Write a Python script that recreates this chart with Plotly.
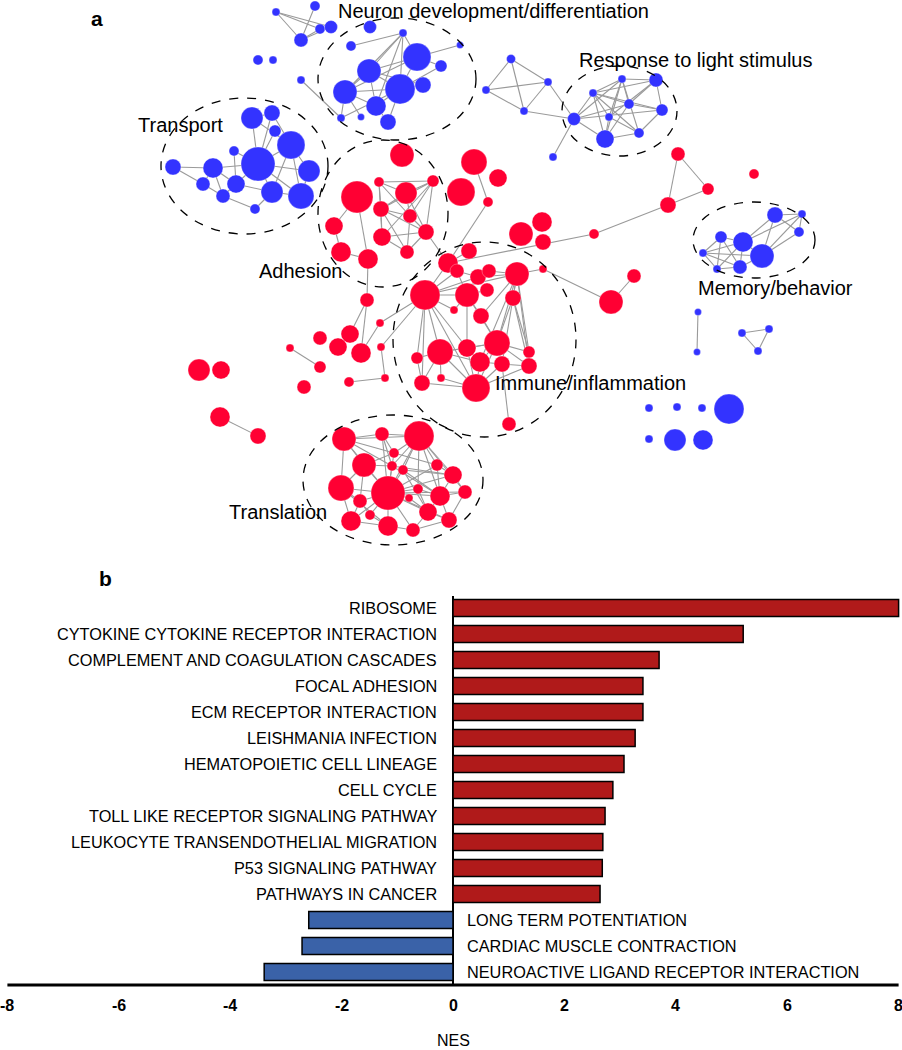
import plotly.graph_objects as go

# ---------------- Panel a: enrichment network (diagram units = pixels of panel) -------------
# blue = down, red = up
neuron_ids = ["n1","n2","n3","n4","n5","n6","n7","n8","n9","n10","n11","n12","n13","n14"]
neuron_x = [370,351,403,460,417,369,441,345,400,423,376,341,361,388]
neuron_y = [27,46,33,45,57,71,66,92,89,85,106,118,117,122]
neuron_r = [6.5,5,4,3.5,14,12,6,12,15,8,10,4,3.5,8]

misc_blue_ids = ["b1","b2","b3","b4","b5","b6","b7","b8","r1","r2","r3","r4",
                 "s1","s2","s3","s4","s5","s6","s7","s8","s9","s10","s11","s12"]
misc_blue_x = [315,276,301,320,331,258,273,301,511,486,548,524,
               698,697,742,769,758,649,677,702,729,649,675,703]
misc_blue_y = [6,12,40,29,27,60,60,80,59,90,82,111,
               312,352,333,329,351,408,407,408,409,439,440,440]
misc_blue_r = [5,4,7,5,6.5,5,4,4,4.5,4,4,4,
               3.5,3.5,4,4,4,4,4,4,15,4,11,10]

transport_ids = ["t1","t2","t3","t4","t5","t6","t7","t8","t9","t10","t11","t12","t13","t14","t15"]
transport_x = [252,272,275,291,234,258,173,213,309,203,236,272,301,223,255]
transport_y = [118,113,131,145,151,164,167,168,171,184,184,192,196,196,209]
transport_r = [11,8,6,14,5,17,8,10,11,7,9,11,13,7,5]

light_ids = ["r5","r6","r7","r8","r9","r10","r11","r12","r13","r14"]
light_x = [574,593,622,656,629,662,609,639,605,553]
light_y = [119,93,79,80,104,110,117,133,139,157]
light_r = [6.5,4,4,7,5,6,4,5,9,4]

memory_ids = ["m1","m2","m3","m4","m5","m6","m7","m8","m9"]
memory_x = [775,802,799,721,743,703,762,717,740]
memory_y = [215,214,232,237,242,253,256,269,267]
memory_r = [8,4,5,6,10,4,12,4,7]

adhesion_ids = ["a1","a2","a3","a4","a5","a6","a7","a8","a9","a10","a11","a12","a13",
                "c1","c2","c3","c4"]
adhesion_x = [402,357,379,406,433,381,410,334,382,426,407,341,368,474,498,461,488]
adhesion_y = [155,197,182,193,181,209,216,226,237,232,252,252,259,162,178,192,202]
adhesion_r = [12,16,5,11,6,8,7,9,9,8,7,10,10,13,9,14,5]

immune_ids = ["i1","i2","i3","i4","i5","i6","i7","i8","i9","i10","i11","i12","i13","i14",
              "i15","i16","i17","i18","i19","i20","i21","i22","i23","i24","i25","i26","i27","i28",
              "e1","e2","e3","e4","e5","e6","e7"]
immune_x = [469,448,457,517,543,478,489,425,467,487,513,454,481,440,
            467,497,529,417,480,502,529,422,441,476,509,521,542,543,
            594,668,678,708,754,611,634]
immune_y = [251,263,271,274,269,277,271,295,295,290,298,310,316,352,
            348,343,352,358,362,364,366,383,378,388,424,234,222,242,
            234,205,154,189,174,302,276]
immune_r = [8,10,7,12,4,8,7,15,12,7,8,4,8,13,
            9,13,6,6,10,8,8,8,4,14,7,12,10,8,
            5,8,7,6,5,12,7]

left_ids = ["l1","l2","l3","l4","l5","l6","l7","l8","l9","l10","l11","l12","l13","l14","l15","l16"]
left_x = [367,380,320,350,338,361,381,290,320,349,385,304,199,221,220,258]
left_y = [300,323,338,334,347,353,347,348,367,382,378,387,370,370,417,436]
left_r = [7,4,7,9,9,10,4,4,6,5,4,7,11,9,10,8]

translation_ids = ["x1","x2","x3","x4","x5","x6","x7","x8","x9","x10","x11",
                   "x12","x13","x14","x15","x16","x17","x18","x19","x20","x21","x22"]
translation_x = [344,382,419,364,394,392,403,437,453,341,388,418,440,465,360,409,370,428,351,388,413,449]
translation_y = [439,434,436,465,453,466,470,465,475,488,493,489,496,492,501,498,515,512,521,526,530,520]
translation_r = [12,7,15,12,5,5,5,6,9,13,17,5,10,7,7,4,5,9,10,10,7,8]

edges = [
    # small blue groups
    "b2-b3","b2-b4","b2-b5","b1-b3","b3-b4","b3-b5","b4-b5","b8-n12",
    "r1-r2","r1-r3","r1-r4","r2-r3","r2-r4","r3-r4","r3-r5","r4-r5","r5-r14",
    "s1-s2","s3-s4","s4-s5","s3-s5",
    # neuron
    "n2-n3","n3-n6","n3-n8","n3-n9","n3-n11","n3-n5","n5-n4","n5-n7","n5-n6","n5-n9",
    "n6-n8","n6-n9","n6-n11","n8-n9","n8-n11","n8-n13","n9-n11","n9-n14","n9-n10",
    "n6-n10","n11-n14","n8-n12","n12-n9","n5-n8","n7-n9",
    # transport
    "t1-t2","t1-t6","t2-t6","t2-t4","t3-t6","t4-t6","t4-t9","t4-t12","t4-t13","t5-t6",
    "t5-t11","t6-t8","t6-t9","t6-t11","t6-t12","t6-t13","t7-t8","t7-t10","t8-t10","t8-t11",
    "t8-t14","t10-t14","t11-t14","t11-t12","t12-t13","t12-t15","t14-t15","t9-t13","t1-t4",
    # light
    "r5-r6","r5-r7","r5-r9","r5-r10","r5-r13","r6-r7","r6-r8","r6-r9","r6-r11","r6-r12",
    "r6-r13","r6-r10","r7-r8","r7-r11","r7-r12","r7-r9","r8-r9","r8-r10","r8-r11","r9-r10",
    "r9-r13","r11-r13","r11-r12","r12-r13","r10-r12","r13-r7",
    # memory
    "m1-m2","m1-m3","m1-m5","m1-m7","m2-m3","m2-m7","m2-m5","m3-m7","m4-m5","m4-m6","m4-m9",
    "m4-m8","m5-m6","m5-m7","m5-m9","m5-m8","m6-m8","m6-m9","m7-m9","m8-m9","m6-m7",
    # adhesion
    "a2-a8","a2-a13","a8-a12","a3-a4","a3-a6","a3-a9","a3-a7","a4-a5","a4-a6","a4-a7",
    "a4-a10","a5-a6","a5-a7","a5-a10","a5-a9","a6-a7","a6-a9","a6-a11","a7-a10","a7-a11",
    "a9-a11","a9-a10","a10-a11","a3-a5","a6-a10","a12-a13","a10-i2","a13-l1","c1-c4","c4-i2",
    # immune
    "i8-i2","i8-i3","i8-i9","i8-i14","i8-i18","i8-i15","i8-i22","i8-i24","i8-i12","i8-i4",
    "i8-i6","i2-i3","i2-i1","i3-i6","i3-i9","i6-i7","i6-i4","i7-i4","i9-i12","i9-i13",
    "i9-i15","i10-i9","i4-i11","i4-i16","i4-i19","i4-i20","i4-i17","i4-i21","i11-i16",
    "i11-i21","i11-i17","i14-i15","i14-i16","i14-i19","i14-i18","i14-i22","i14-i24",
    "i14-i23","i15-i16","i15-i19","i15-i24","i16-i19","i16-i20","i16-i17","i16-i21",
    "i16-i24","i19-i20","i19-i24","i20-i21","i20-i24","i17-i21","i22-i24","i23-i24",
    "i18-i22","i24-i21","i20-i25","i4-i5","i13-i16","i4-i13","i9-i16",
    "i2-e1","e1-e2","e2-e3","e2-e4","e3-e4","i5-e6","e6-e7",
    # left satellites
    "l2-i8","l7-i8","l6-l2","l7-l11","l10-l11","l1-l4","l1-l6","l8-l9","l15-l16",
    # translation
    "x1-x4","x1-x2","x1-x11","x1-x5","x1-x10","x1-x6","x2-x5","x2-x3","x2-x11","x2-x6",
    "x3-x5","x3-x7","x3-x8","x3-x9","x3-x11","x3-x12","x3-x13","x3-x6","x4-x10","x4-x11",
    "x4-x5","x4-x15","x4-x6","x5-x11","x5-x8","x6-x11","x6-x9","x7-x11","x7-x9","x7-x13",
    "x8-x9","x8-x11","x8-x13","x9-x13","x9-x14","x9-x11","x10-x11","x10-x15","x10-x19",
    "x11-x12","x11-x13","x11-x15","x11-x16","x11-x17","x11-x18","x11-x19","x11-x20",
    "x11-x21","x11-x22","x11-x14","x12-x13","x12-x18","x13-x14","x13-x18","x13-x22",
    "x14-x22","x15-x19","x15-x17","x16-x18","x17-x20","x18-x21","x18-x22","x19-x20",
    "x20-x21","x21-x22","x6-x13","x7-x18","x10-x20","x3-x14","x1-x3",
]

cluster_names = ["Neuron development/differentiation", "Response to light stimulus", "Transport",
                 "Adhesion", "Memory/behavior", "Immune/inflammation", "Translation"]

# ---------------- Panel b: GSEA NES ----------------
pathways = ["RIBOSOME", "CYTOKINE CYTOKINE RECEPTOR INTERACTION", "COMPLEMENT AND COAGULATION CASCADES",
            "FOCAL ADHESION", "ECM RECEPTOR INTERACTION", "LEISHMANIA INFECTION",
            "HEMATOPOIETIC CELL LINEAGE", "CELL CYCLE", "TOLL LIKE RECEPTOR SIGNALING PATHWAY",
            "LEUKOCYTE TRANSENDOTHELIAL MIGRATION", "P53 SIGNALING PATHWAY", "PATHWAYS IN CANCER",
            "LONG TERM POTENTIATION", "CARDIAC MUSCLE CONTRACTION",
            "NEUROACTIVE LIGAND RECEPTOR INTERACTION"]
nes = [8.0, 5.21, 3.70, 3.41, 3.41, 3.27, 3.07, 2.87, 2.73, 2.69, 2.68, 2.64, -2.59, -2.71, -3.39]
x_ticks = [-8, -6, -4, -2, 0, 2, 4, 6, 8]

# =================== build figure ===================
BLUE = "#3333FF"
RED = "#FF0033"
FONT = "Liberation Sans, Arial, sans-serif"
W, H = 902, 1050
A_H = 560  # panel a height in pixels

blue_groups = [(neuron_ids, neuron_x, neuron_y, neuron_r), (misc_blue_ids, misc_blue_x, misc_blue_y, misc_blue_r),
               (transport_ids, transport_x, transport_y, transport_r), (light_ids, light_x, light_y, light_r),
               (memory_ids, memory_x, memory_y, memory_r)]
red_groups = [(adhesion_ids, adhesion_x, adhesion_y, adhesion_r), (immune_ids, immune_x, immune_y, immune_r),
              (left_ids, left_x, left_y, left_r), (translation_ids, translation_x, translation_y, translation_r)]

pos = {}
for grp in blue_groups + red_groups:
    for nid, x, y, r in zip(*grp):
        pos[nid] = (x, y)

fig = go.Figure()

ex, ey = [], []
seen = set()
for e in edges:
    a, b = e.split("-")
    key = tuple(sorted((a, b)))
    if key in seen:
        continue
    seen.add(key)
    ex += [pos[a][0], pos[b][0], None]
    ey += [pos[a][1], pos[b][1], None]
fig.add_trace(go.Scatter(x=ex, y=ey, mode="lines", line=dict(color="#9a9a9a", width=1.1),
                         hoverinfo="skip", showlegend=False, xaxis="x", yaxis="y"))

for groups, col in ((blue_groups, BLUE), (red_groups, RED)):
    xs, ys, ss, tt = [], [], [], []
    for ids, gx, gy, gr in groups:
        xs += list(gx); ys += list(gy); ss += [2 * r for r in gr]; tt += list(ids)
    fig.add_trace(go.Scatter(x=xs, y=ys, mode="markers", text=tt, hoverinfo="text",
                             marker=dict(color=col, size=ss, sizemode="diameter",
                                         line=dict(color="rgba(255,255,255,0.5)", width=0.6), opacity=1),
                             showlegend=False, xaxis="x", yaxis="y"))

# cluster ellipses (x0, x1, y0, y1) and label anchors
ellipses = [(318, 476, 18, 140), (562, 677, 66, 156), (161, 328, 98, 234), (318, 448, 140, 287),
            (693, 815, 202, 278), (393, 576, 242, 437), (303, 483, 415, 545)]
label_pos = [(493, 11), (695, 60), (180, 125), (300, 271), (775, 288), (590, 383), (278, 512)]

shapes = []
for (x0, x1, y0, y1) in ellipses:
    shapes.append(dict(type="circle", xref="x", yref="y", x0=x0, x1=x1, y0=y0, y1=y1,
                       line=dict(color="black", width=1.3, dash="dash"), layer="above"))

annotations = []
for name, (lx, ly) in zip(cluster_names, label_pos):
    annotations.append(dict(x=lx, y=ly, xref="x", yref="y", text=name, showarrow=False,
                            font=dict(family=FONT, size=20, color="black"),
                            xanchor="center", yanchor="middle"))

# panel letters
annotations.append(dict(x=97, y=18, xref="x", yref="y", text="<b>a</b>", showarrow=False,
                        font=dict(family=FONT, size=21, color="black")))
annotations.append(dict(x=97 / W, y=1 - 578 / H, xref="paper", yref="paper", text="<b>b</b>",
                        showarrow=False, font=dict(family=FONT, size=21, color="black")))

# panel b bars
bar_cols = ["#B01A1A" if v > 0 else "#3A62A8" for v in nes]
fig.add_trace(go.Bar(x=nes, y=pathways, orientation="h", marker=dict(color=bar_cols,
                     line=dict(color="black", width=1.5)), width=0.66,
                     showlegend=False, xaxis="x2", yaxis="y2", hoverinfo="x+y"))

for p, v in zip(pathways, nes):
    if v > 0:
        annotations.append(dict(x=0, y=p, xref="x2", yref="y2", text=p, showarrow=False,
                                xanchor="right", xshift=-14, font=dict(family=FONT, size=16.3, color="black")))
    else:
        annotations.append(dict(x=0, y=p, xref="x2", yref="y2", text=p, showarrow=False,
                                xanchor="left", xshift=12, font=dict(family=FONT, size=16.3, color="black")))

ZERO_PX, PX_PER = 453.0, 55.7
ytop, ybot = 596, 985
x_lo = (0 - ZERO_PX) / PX_PER
x_hi = (W - ZERO_PX) / PX_PER

# bottom axis line from -8 to 8
shapes.append(dict(type="line", xref="x2", yref="paper", x0=x_ticks[0], x1=x_ticks[-1],
                   y0=1 - ybot / H, y1=1 - ybot / H, line=dict(color="black", width=3)))

# tick labels (drawn as annotations so the edge labels are kept)
for t in x_ticks:
    annotations.append(dict(x=t, y=1 - 1005 / H, xref="x2", yref="paper", text="<b>%d</b>" % t,
                            showarrow=False, xanchor="center", yanchor="middle",
                            font=dict(family=FONT, size=16, color="black")))
annotations.append(dict(x=0, y=1 - 1040 / H, xref="x2", yref="paper", text="NES", showarrow=False,
                        xanchor="center", yanchor="middle", font=dict(family=FONT, size=16, color="black")))

fig.update_layout(
    width=W, height=H, margin=dict(l=0, r=0, t=0, b=0),
    paper_bgcolor="white", plot_bgcolor="white",
    xaxis=dict(domain=[0, 1], range=[0, W], visible=False, fixedrange=True),
    yaxis=dict(domain=[1 - A_H / H, 1], range=[A_H, 0], visible=False, fixedrange=True),
    xaxis2=dict(domain=[0, 1], range=[x_lo, x_hi], anchor="y2", showticklabels=False,
                showline=False, ticks="", showgrid=False,
                zeroline=True, zerolinecolor="black", zerolinewidth=2),
    yaxis2=dict(domain=[1 - ybot / H, 1 - ytop / H], anchor="x2", type="category",
                range=[14.5, -0.46], visible=False, showgrid=False),
    shapes=shapes, annotations=annotations,
)

fig.write_html("out.html", config={"displayModeBar": False},
               post_script="document.body.style.margin='0';document.body.style.overflow='hidden';")
